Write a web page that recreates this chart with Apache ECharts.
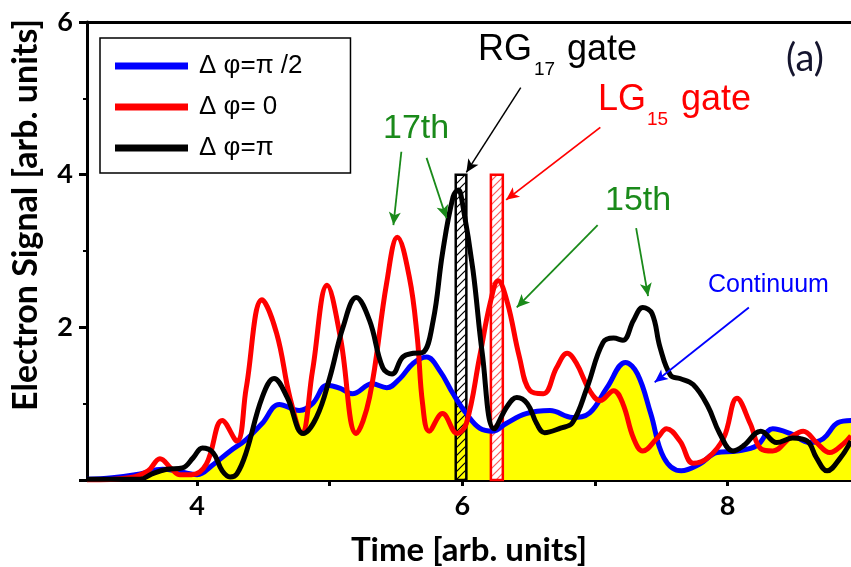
<!DOCTYPE html>
<html><head><meta charset="utf-8">
<script src="https://cdn.jsdelivr.net/npm/echarts@6.0.0/dist/echarts.min.js"></script>
<style>html,body{margin:0;padding:0;background:#fff}#c{width:851px;height:567px}</style>
</head><body><div id="c"></div><script>
// ---- data ----
const seriesNames = ['Δ φ=π /2', 'Δ φ= 0', 'Δ φ=π'];
const blueX = [3.17,3.36,3.57,3.74,3.87,4.00,4.12,4.25,4.37,4.49,4.62,4.77,4.87,4.98,5.08,5.17,5.32,5.43,5.53,5.63,5.73,5.83,5.93,6.03,6.13,6.23,6.33,6.48,6.66,6.83,6.96,7.09,7.23,7.32,7.42,7.52,7.65,7.79,7.92,8.07,8.22,8.34,8.47,8.62,8.72,8.83,8.93];
const blueY = [0.01,0.03,0.08,0.14,0.11,0.07,0.20,0.38,0.53,0.74,0.99,0.91,1.00,1.24,1.20,1.13,1.26,1.21,1.33,1.53,1.61,1.43,1.13,0.87,0.68,0.64,0.74,0.87,0.91,0.82,0.88,1.21,1.54,1.39,0.87,0.29,0.12,0.21,0.36,0.38,0.45,0.67,0.61,0.49,0.54,0.75,0.78];
const redX = [3.17,3.49,3.63,3.72,3.81,3.87,3.96,4.07,4.19,4.30,4.37,4.49,4.60,4.70,4.79,4.87,4.98,5.08,5.20,5.30,5.43,5.51,5.60,5.66,5.70,5.75,5.85,5.96,6.03,6.13,6.21,6.27,6.34,6.43,6.51,6.61,6.71,6.79,6.86,6.96,7.04,7.14,7.21,7.29,7.36,7.47,7.54,7.64,7.74,7.85,7.97,8.07,8.17,8.25,8.34,8.47,8.57,8.67,8.77,8.87,8.93];
const redY = [0,0.03,0.12,0.28,0.14,0.07,0.07,0.21,0.78,0.51,1.20,2.36,1.92,1.08,0.62,1.43,2.55,1.87,0.61,1.08,2.59,3.18,2.66,1.87,1.00,0.64,0.87,0.61,0.74,1.61,2.32,2.61,2.32,1.61,1.17,1.13,1.47,1.66,1.53,1.17,1.04,1.17,1.00,0.55,0.38,0.55,0.67,0.51,0.22,0.29,0.55,1.07,0.74,0.41,0.38,0.55,0.64,0.49,0.36,0.47,0.58];
const blackX = [3.17,3.57,3.66,3.77,3.89,3.97,4.04,4.12,4.19,4.25,4.30,4.37,4.49,4.58,4.68,4.80,4.90,5.00,5.10,5.20,5.30,5.40,5.47,5.55,5.63,5.70,5.78,5.85,5.93,5.97,6.00,6.08,6.15,6.24,6.34,6.41,6.49,6.56,6.62,6.74,6.83,6.94,7.06,7.14,7.21,7.29,7.36,7.43,7.49,7.57,7.64,7.74,7.85,7.94,8.04,8.12,8.25,8.37,8.49,8.60,8.67,8.75,8.85,8.93];
const blackY = [0.01,0.01,0.08,0.14,0.16,0.29,0.42,0.36,0.12,0.04,0.08,0.36,1.08,1.33,1.08,0.61,0.82,1.34,2.00,2.39,2.09,1.47,1.39,1.61,1.66,1.67,2.09,2.97,3.71,3.80,3.63,2.75,1.66,0.67,0.97,1.08,1.00,0.74,0.62,0.68,0.75,1.21,1.80,1.86,1.83,2.09,2.26,2.18,1.74,1.37,1.33,1.25,0.97,0.61,0.38,0.45,0.64,0.49,0.55,0.51,0.29,0.12,0.29,0.51];
const xTicks = [4,5,6,7,8];
const xLabels = [4,6,8];
// gates: [start, end, top]
const gateRG17 = [5.95, 6.03, 4.0];
const gateLG15 = [6.215, 6.305, 4.0];
// annotation arrows: [fromX, fromY, toX, toY]
const arrowRG = [6.44, 5.14, 6.03, 4.03];
const arrowLG = [7.04, 4.62, 6.33, 3.67];
const arrow17a = [5.54, 4.30, 5.48, 3.34];
const arrow17b = [5.73, 4.22, 5.88, 3.43];
const arrow15a = [7.02, 3.34, 6.41, 2.26];
const arrow15b = [7.31, 3.30, 7.40, 2.41];
const arrowCont = [8.16, 2.26, 7.45, 1.28];

// ---- build ----
const zip = (xs, ys) => xs.map((x, i) => [x, ys[i]]);
function hatch(bg, fg, lw) {
  const c = document.createElement('canvas'); c.width = 8; c.height = 8;
  const g = c.getContext('2d');
  if (bg) { g.fillStyle = bg; g.fillRect(0, 0, 8, 8); }
  g.strokeStyle = fg; g.lineWidth = lw; g.beginPath();
  g.moveTo(0, 8); g.lineTo(8, 0);
  g.moveTo(-2, 2); g.lineTo(2, -2);
  g.moveTo(6, 10); g.lineTo(10, 6);
  g.stroke();
  return c;
}
const gateStyles = [
  { fill: { image: hatch(null, '#000', 1.2), repeat: 'repeat' }, stroke: '#000' },
  { fill: { image: hatch('#fff', '#ff5a5a', 1.2), repeat: 'repeat' }, stroke: '#ff0000' }
];
const GREEN = '#1a8a1a';
function arrowItem(a, color, w) {
  return [{ coord: [a[0], a[1]], lineStyle: { color: color, width: w, type: 'solid' } }, { coord: [a[2], a[3]] }];
}
const xmin = 3.17, xmax = 8.93;
const chart = echarts.init(document.getElementById('c'), null, { renderer: 'canvas' });
const axisFont = 'Lato';
const option = {
  animation: false,
  backgroundColor: '#fff',
  grid: { left: 87, top: 22, right: 0, bottom: 87, containLabel: false, outerBoundsMode: 'none' },
  legend: {
    data: seriesNames,
    orient: 'vertical', left: 100, top: 38,
    icon: 'rect', itemWidth: 73, itemHeight: 7, itemGap: 13,
    borderColor: '#000', borderWidth: 1.5, padding: [14, 48, 11, 15],
    textStyle: { fontSize: 26, fontFamily: 'Liberation Sans', color: '#000', lineHeight: 28, padding: [0, 0, 0, 6] },
    selectedMode: false
  },
  xAxis: [{
    type: 'value', min: xmin, max: xmax,
    axisLine: { show: true, onZero: false, lineStyle: { color: '#000', width: 3 } },
    axisTick: { show: true, customValues: xTicks, length: 6, lineStyle: { color: '#000', width: 3 } },
    axisLabel: { customValues: xLabels, fontSize: 27, fontWeight: 'bold', fontFamily: axisFont, color: '#000', margin: 13 },
    splitLine: { show: false },
    name: 'Time [arb. units]', nameLocation: 'middle', nameGap: 54,
    nameTextStyle: { fontSize: 33, fontWeight: 'bold', fontFamily: axisFont, color: '#000' }
  }, {
    type: 'value', position: 'top', min: xmin, max: xmax,
    axisLine: { show: true, onZero: false, lineStyle: { color: '#000', width: 3 } },
    axisTick: { show: false }, axisLabel: { show: false }, splitLine: { show: false }
  }],
  yAxis: {
    type: 'value', min: 0, max: 6, interval: 2,
    axisLine: { show: true, onZero: false, lineStyle: { color: '#000', width: 3 } },
    axisTick: { show: true, length: 8, lineStyle: { color: '#000', width: 3 } },
    minorTick: { show: true, splitNumber: 2, length: 4, lineStyle: { color: '#000', width: 2 } },
    splitLine: { show: false }, minorSplitLine: { show: false },
    axisLabel: { formatter: v => (v === 0 ? '' : String(v)), fontSize: 27, fontWeight: 'bold', fontFamily: axisFont, color: '#000', margin: 14 }
  },
  series: [
    { name: 'area', type: 'line', data: zip(blueX, blueY), smooth: 0.4, symbol: 'none',
      lineStyle: { width: 0, color: '#ffff00' }, areaStyle: { color: '#ffff00', opacity: 1 }, z: 1, silent: true },
    { name: 'gates', type: 'custom', data: [gateRG17.concat([0]), gateLG15.concat([1])], encode: { x: [0, 1], y: 2 }, z: 2, silent: true,
      renderItem: function (params, api) {
        const p0 = api.coord([api.value(0), api.value(2)]);
        const p1 = api.coord([api.value(1), 0]);
        const st = gateStyles[api.value(3)];
        return { type: 'rect', shape: { x: p0[0], y: p0[1], width: p1[0] - p0[0], height: p1[1] - p0[1] },
          style: { fill: st.fill, stroke: st.stroke, lineWidth: 2.5 } };
      } },
    { name: seriesNames[0], type: 'line', data: zip(blueX, blueY), smooth: 0.4, symbol: 'none', color: '#0000ff',
      lineStyle: { width: 5, color: '#0000ff' }, z: 3 },
    { name: seriesNames[1], type: 'line', data: zip(redX, redY), smooth: 0.4, symbol: 'none', color: '#ff0000',
      lineStyle: { width: 5, color: '#ff0000' }, z: 3 },
    { name: seriesNames[2], type: 'line', data: zip(blackX, blackY), smooth: 0.4, symbol: 'none', color: '#000000',
      lineStyle: { width: 5, color: '#000000' }, z: 3 },
    { name: 'annot', type: 'line', data: [], z: 4, silent: true,
      markLine: { silent: true, symbol: ['none', 'arrow'], symbolSize: [9, 13], label: { show: false }, animation: false,
        data: [
          arrowItem(arrowRG, '#000', 1.5), arrowItem(arrowLG, '#ff0000', 1.8),
          arrowItem(arrow17a, GREEN, 1.8), arrowItem(arrow17b, GREEN, 1.8),
          arrowItem(arrow15a, GREEN, 1.8), arrowItem(arrow15b, GREEN, 1.8),
          arrowItem(arrowCont, '#0000ff', 1.8)
        ] } }
  ],
  graphic: [
    { type: 'text', x: 26, y: 215, rotation: Math.PI / 2, style: { text: 'Electron Signal [arb. units]', font: 'bold 34px Lato', fill: '#000', align: 'center', verticalAlign: 'middle' } },
    { type: 'text', x: 478, y: 50, style: { text: 'RG', font: '36px "Liberation Sans"', fill: '#000', verticalAlign: 'middle' } },
    { type: 'text', x: 534, y: 70, style: { text: '17', font: '19px "Liberation Sans"', fill: '#000', verticalAlign: 'middle' } },
    { type: 'text', x: 567, y: 50, style: { text: 'gate', font: '36px "Liberation Sans"', fill: '#000', verticalAlign: 'middle' } },
    { type: 'text', x: 598, y: 100, style: { text: 'LG', font: '36px "Liberation Sans"', fill: '#ff0000', verticalAlign: 'middle' } },
    { type: 'text', x: 647, y: 120, style: { text: '15', font: '19px "Liberation Sans"', fill: '#ff0000', verticalAlign: 'middle' } },
    { type: 'text', x: 681, y: 100, style: { text: 'gate', font: '36px "Liberation Sans"', fill: '#ff0000', verticalAlign: 'middle' } },
    { type: 'text', x: 383, y: 129, style: { text: '17th', font: '34px "Liberation Sans"', fill: GREEN, verticalAlign: 'middle' } },
    { type: 'text', x: 605, y: 201, style: { text: '15th', font: '34px "Liberation Sans"', fill: GREEN, verticalAlign: 'middle' } },
    { type: 'text', x: 708, y: 285, style: { text: 'Continuum', font: '25px "Liberation Sans"', fill: '#0000ff', verticalAlign: 'middle' } },
    { type: 'text', x: 786, y: 59, style: { text: '(a)', font: '38px Lato', fill: '#15152e', verticalAlign: 'middle' } }
  ]
};
chart.setOption(option);
</script></body></html>
